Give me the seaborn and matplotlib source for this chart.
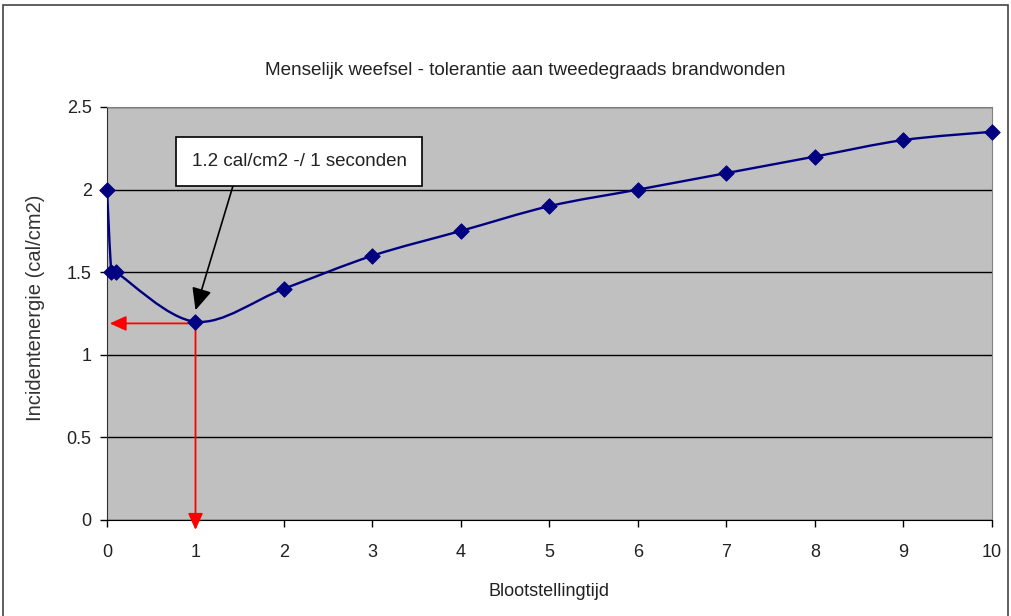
import numpy as np
import matplotlib
matplotlib.use('Agg')
import matplotlib.pyplot as plt
from matplotlib.path import Path
from matplotlib.patches import PathPatch, Rectangle
import seaborn as sns

# data
tijd = [0, 0.05, 0.1, 1, 2, 3, 4, 5, 6, 7, 8, 9, 10]
energie = [2.0, 1.5, 1.5, 1.2, 1.4, 1.6, 1.75, 1.9, 2.0, 2.1, 2.2, 2.3, 2.35]
y_ticks = [0, 0.5, 1, 1.5, 2, 2.5]
y_labels = ['0', '0.5', '1', '1.5', '2', '2.5']
x_ticks = list(range(0, 11))
title = 'Menselijk weefsel - tolerantie aan tweedegraads brandwonden'
note = '1.2 cal/cm2 -/ 1 seconden'

sns.set_style('white')
plt.rcParams['font.family'] = ['Liberation Sans', 'DejaVu Sans']
txt_col = '#222222'

fig = plt.figure(figsize=(10.12, 6.16), dpi=100)
ax = fig.add_axes([107/1012, 96/616, 885/1012, 413/616])
ax.set_facecolor('#c0c0c0')

# outer chart border
fig.patches.append(Rectangle((3/1012, -0.05), 1005/1012, 1.05 - 5/616,
                             transform=fig.transFigure, fill=False,
                             edgecolor='#444444', linewidth=1.2))

# smoothed line, Excel style (catmull-rom as bezier)
pts = np.column_stack([tijd, energie])
verts = [tuple(pts[0])]
codes = [Path.MOVETO]
n = len(pts)
for i in range(n - 1):
    p0 = pts[max(i - 1, 0)]
    p1 = pts[i]
    p2 = pts[i + 1]
    p3 = pts[min(i + 2, n - 1)]
    c1 = p1 + (p2 - p0) / 6
    c2 = p2 - (p3 - p1) / 6
    verts += [tuple(c1), tuple(c2), tuple(p2)]
    codes += [Path.CURVE4] * 3
ax.add_patch(PathPatch(Path(verts, codes), fill=False, edgecolor='#000080',
                       linewidth=1.7, zorder=3))
sns.scatterplot(x=tijd, y=energie, marker='D', color='#000080', s=62,
                edgecolor='#000080', ax=ax, zorder=4, clip_on=False)

ax.set_xlim(0, 10)
ax.set_ylim(0, 2.5)
ax.set_xticks(x_ticks)
ax.set_yticks(y_ticks)
ax.set_yticklabels(y_labels)
ax.yaxis.grid(True, color='black', linewidth=1)
ax.set_axisbelow(True)
ax.spines['top'].set_color('#808080')
ax.spines['right'].set_color('#808080')
ax.spines['left'].set_color('#303030')
ax.spines['bottom'].set_color('#000000')
ax.tick_params(axis='both', direction='out', length=5, width=1, color='black',
               labelsize=13, labelcolor=txt_col, bottom=True, left=True)
ax.tick_params(axis='x', pad=12)
ax.tick_params(axis='y', pad=6)

ax.set_xlabel('Blootstellingtijd', fontsize=13, color=txt_col, labelpad=16)
ax.set_ylabel('Incidentenergie (cal/cm2)', fontsize=14.5, color='#333333')
ax.yaxis.set_label_coords(-0.07, 0.513)
fig.text(0.519, 0.886, title, ha='center', va='center', fontsize=13.6, color=txt_col)

# callout
ax.annotate(note, xy=(1.0, 1.27), xytext=(2.17, 2.17), fontsize=13.5,
            ha='center', va='center', color=txt_col,
            bbox=dict(boxstyle='square,pad=0.85', fc='white', ec='black', lw=1.2),
            arrowprops=dict(arrowstyle='-|>,head_length=1.0,head_width=0.45',
                            color='black', lw=1.2, shrinkA=0, shrinkB=0,
                            relpos=(0.215, 0.0)))

# red guide arrows
ax.annotate('', xy=(0.03, 1.19), xytext=(1.0, 1.19),
            arrowprops=dict(arrowstyle='-|>,head_length=1.0,head_width=0.45',
                            color='red', lw=1.3, shrinkA=0, shrinkB=0),
            annotation_clip=False)
ax.annotate('', xy=(1.0, -0.06), xytext=(1.0, 1.19),
            arrowprops=dict(arrowstyle='-|>,head_length=1.0,head_width=0.45',
                            color='red', lw=1.3, shrinkA=0, shrinkB=0),
            annotation_clip=False)

fig.savefig('out.png', dpi=100)
